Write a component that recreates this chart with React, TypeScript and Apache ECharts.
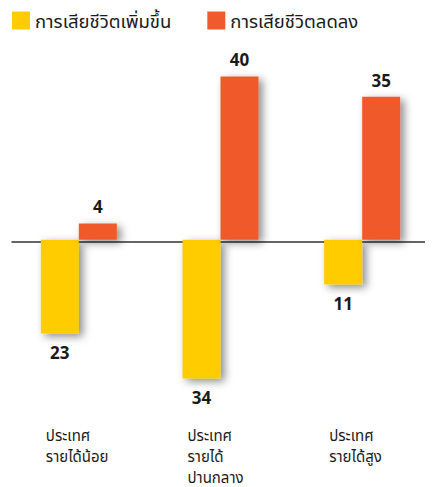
import React, { useEffect, useRef } from "react";
import * as echarts from "echarts";

const categories = ["ประเทศ\nรายได้น้อย", "ประเทศ\nรายได้\nปานกลาง", "ประเทศ\nรายได้สูง"];
const increaseName = "การเสียชีวิตเพิ่มขึ้น";
const decreaseName = "การเสียชีวิตลดลง";
const increaseValues = [-23, -34, -11];
const decreaseValues = [4, 40, 35];

const FONT = "'Noto Sans', 'Noto Sans Thai', sans-serif";

export default function App() {
  const ref = useRef<HTMLDivElement>(null);
  useEffect(() => {
    if (!ref.current) return;
    const chart = echarts.init(ref.current, null, { renderer: "svg" });
    const shadow = {
      shadowColor: "rgba(0,0,0,0.45)",
      shadowBlur: 8,
      shadowOffsetX: 4,
      shadowOffsetY: 3,
    };
    chart.setOption({
      animation: false,
      textStyle: { fontFamily: FONT },
      legend: {
        left: 4,
        top: 3,
        padding: 0,
        itemWidth: 18,
        itemHeight: 18,
        itemGap: 36,
        icon: "rect",
        textStyle: { fontSize: 18.5, color: "#1a1a1a", fontFamily: FONT },
        data: [increaseName, decreaseName],
      },
      grid: [
        { left: -3.25, right: -5.25, top: 48, height: 351 },
        { left: 4, right: 5, top: 48, height: 351 },
      ],
      xAxis: [
        {
          type: "category",
          gridIndex: 0,
          data: categories,
          axisLine: { show: false },
          axisTick: { show: false },
          axisLabel: {
            align: "left",
            padding: [0, 0, 0, -33],
            margin: 21,
            fontSize: 15,
            lineHeight: 21,
            color: "#1a1a1a",
            fontFamily: FONT,
          },
        },
        {
          type: "value",
          gridIndex: 1,
          min: 0,
          max: 1,
          axisLine: { show: true, onZero: true, lineStyle: { color: "#333", width: 1.5 } },
          axisTick: { show: false },
          axisLabel: { show: false },
          splitLine: { show: false },
        },
      ],
      yAxis: [
        { type: "value", gridIndex: 0, min: -40, max: 45, show: false },
        { type: "value", gridIndex: 1, min: -40, max: 45, show: false },
      ],
      series: [
        {
          name: increaseName,
          type: "bar",
          xAxisIndex: 0,
          yAxisIndex: 0,
          data: increaseValues,
          barWidth: 38,
          barGap: "0%",
          itemStyle: { color: "#FFCC00", ...shadow },
          label: {
            show: true,
            position: "bottom",
            distance: 10,
            fontSize: 17,
            fontWeight: "bold",
            color: "#1a1a1a",
            fontFamily: FONT,
            formatter: (p: any) => String(Math.abs(p.value)),
          },
        },
        {
          name: decreaseName,
          type: "bar",
          xAxisIndex: 0,
          yAxisIndex: 0,
          data: decreaseValues,
          barWidth: 38,
          barGap: "0%",
          itemStyle: { color: "#F05A2C", ...shadow },
          label: {
            show: true,
            position: "top",
            distance: 8,
            fontSize: 17,
            fontWeight: "bold",
            color: "#1a1a1a",
            fontFamily: FONT,
          },
        },
      ],
    });
    return () => chart.dispose();
  }, []);
  return <div ref={ref} style={{ width: 425, height: 479 }} />;
}
